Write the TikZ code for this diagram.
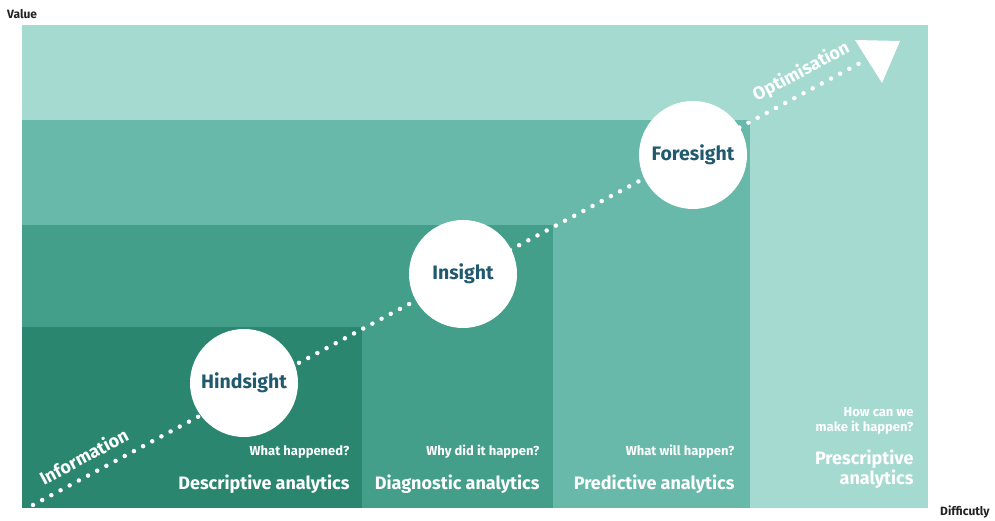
\documentclass[tikz,border=0pt]{standalone}
\usepackage{fontspec}
\setmainfont{Fira Sans}
\usetikzlibrary{calc}
\definecolor{tealA}{HTML}{A5DAD1}
\definecolor{tealB}{HTML}{68B9A9}
\definecolor{tealC}{HTML}{439E8A}
\definecolor{tealD}{HTML}{2B8670}
\definecolor{inknavy}{HTML}{215A6E}
\definecolor{axisgray}{HTML}{222222}

\begin{document}
\begin{tikzpicture}[x=1pt,y=1pt,
    stage/.style={circle,fill=white,minimum size=108pt,inner sep=0pt,text=inknavy,font=\bfseries\fontsize{19.5}{20}\selectfont},
    question/.style={anchor=base east,text=white,align=right,font=\bfseries\fontsize{13}{15}\selectfont},
    kind/.style={anchor=base east,text=white,align=right,font=\bfseries\fontsize{18}{20}\selectfont},
    trail/.style={white,line width=4.5pt,line cap=round,dash pattern=on 0pt off 10.4pt},
    tag/.style={sloped,text=white,font=\bfseries\fontsize{18}{18}\selectfont},
    axis/.style={text=axisgray,inner sep=0pt,anchor=west,font=\bfseries\fontsize{12}{12}\selectfont}]
  \useasboundingbox (0,0) rectangle (995,521);
  \fill[tealA] (22,13) rectangle (928,496);
  \fill[tealB] (22,13) rectangle (750,401);
  \fill[tealC] (22,13) rectangle (553,296);
  \fill[tealD] (22,13) rectangle (362,194);

  \coordinate (start)  at (33,16);
  \coordinate (finish) at (862,459);
  \fill[white] (855,481) -- (900,480) -- (882,438) -- cycle;
  \draw[trail] (start) -- (finish)
    node[tag,pos=0.072,above=6pt] {Information}
    node[tag,pos=0.938,above=5pt] {Optimisation};

  \node[stage] (hindsight) at (244,138) {Hindsight};
  \node[stage] (insight)   at (463,247) {Insight};
  \node[stage] (foresight) at (693,366) {Foresight};

  \node[question] (q1) at (353,65) {What happened?};
  \node[kind]     (k1) at (353,31) {Descriptive analytics};
  \node[question] (q2) at (543,65) {Why did it happen?};
  \node[kind]     (k2) at (543,31) {Diagnostic analytics};
  \node[question] (q3) at (738,65) {What will happen?};
  \node[kind]     (k3) at (738,31) {Predictive analytics};
  \node[question] (q4) at (917,89) {How can we\\make it happen?};
  \node[kind]     (k4) at (917,36) {Prescriptive\\analytics};

  \node[axis] (value) at (7,507) {Value};
  \node[axis] (difficulty) at (940,9) {Difficutly};
\end{tikzpicture}
\end{document}
